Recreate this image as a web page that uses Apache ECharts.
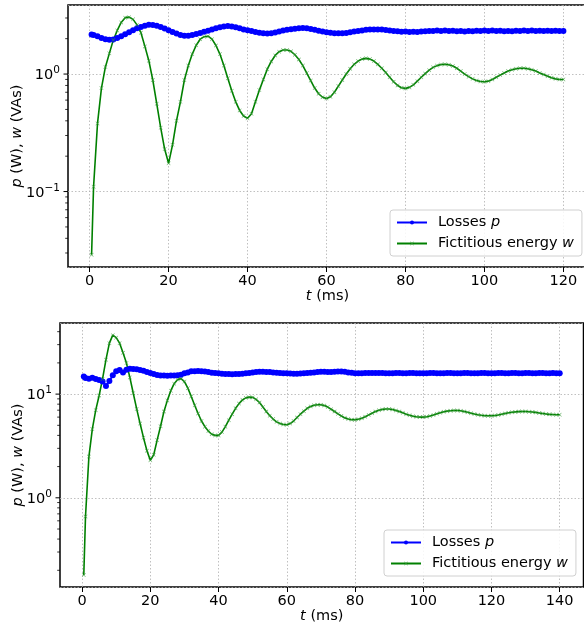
<!DOCTYPE html>
<html>
<head>
<meta charset="utf-8">
<script src="https://cdn.jsdelivr.net/npm/echarts@6/dist/echarts.min.js"></script>
<style>
  html, body { margin: 0; padding: 0; background: #fff; }
  #chart { width: 584px; height: 628px; }
</style>
</head>
<body>
<div id="chart"></div>
<script>
// sample grid: first sample at 0.5 ms, then every 1 ms
function sampleTimes(last) {
    const t = [0.5];
    for (let i = 1; i <= last; i++) t.push(i);
    return t;
}

const topTimes = sampleTimes(120);
const botTimes = sampleTimes(140);
const xTicksTop = [0, 20, 40, 60, 80, 100, 120];
const xTicksBot = [0, 20, 40, 60, 80, 100, 120, 140];

// upper plot: losses p (W) and fictitious energy w (VAs)
const topP = [
    2.17, 2.15, 2.10, 2.03, 1.98, 1.96, 1.97, 2.03, 2.10, 2.18, 2.27,
    2.36, 2.45, 2.52, 2.58, 2.63, 2.62, 2.58, 2.52, 2.44, 2.36,
    2.28, 2.21, 2.15, 2.12, 2.12, 2.15, 2.19, 2.24, 2.29, 2.34,
    2.40, 2.45, 2.50, 2.54, 2.56, 2.54, 2.50, 2.45, 2.40, 2.36,
    2.32, 2.28, 2.25, 2.22, 2.21, 2.22, 2.26, 2.30, 2.35, 2.38,
    2.41, 2.43, 2.45, 2.47, 2.45, 2.42, 2.38, 2.34, 2.30, 2.27,
    2.25, 2.23, 2.22, 2.22, 2.24, 2.27, 2.30, 2.33, 2.35, 2.38,
    2.39, 2.40, 2.39, 2.40, 2.37, 2.35, 2.32, 2.31, 2.29, 2.30,
    2.28, 2.29, 2.28, 2.30, 2.31, 2.33, 2.32, 2.35, 2.33, 2.35,
    2.33, 2.34, 2.31, 2.32, 2.30, 2.32, 2.31, 2.34, 2.32, 2.35,
    2.33, 2.35, 2.32, 2.34, 2.31, 2.33, 2.31, 2.34, 2.32, 2.35,
    2.33, 2.35, 2.32, 2.34, 2.32, 2.34, 2.32, 2.34, 2.32, 2.33
];
const topW = [
    0.029, 0.11, 0.38, 0.76, 1.15, 1.50, 1.95, 2.35, 2.75, 3.02, 3.05,
    2.92, 2.62, 2.25, 1.72, 1.30, 0.89, 0.56, 0.35, 0.23, 0.174,
    0.25, 0.40, 0.58, 0.89, 1.18, 1.48, 1.76, 1.98, 2.08, 2.10,
    1.98, 1.75, 1.48, 1.18, 0.92, 0.72, 0.58, 0.49, 0.44, 0.42,
    0.46, 0.58, 0.73, 0.90, 1.10, 1.28, 1.44, 1.55, 1.60, 1.60,
    1.56, 1.46, 1.33, 1.18, 1.02, 0.88, 0.76, 0.68, 0.635, 0.62,
    0.64, 0.70, 0.79, 0.89, 1.00, 1.11, 1.21, 1.29, 1.34, 1.36,
    1.34, 1.29, 1.21, 1.12, 1.03, 0.94, 0.86, 0.80, 0.765, 0.755,
    0.77, 0.81, 0.87, 0.94, 1.01, 1.08, 1.14, 1.18, 1.205, 1.21,
    1.20, 1.17, 1.12, 1.06, 1.00, 0.95, 0.91, 0.88, 0.865, 0.86,
    0.87, 0.90, 0.94, 0.98, 1.02, 1.06, 1.09, 1.11, 1.12, 1.12,
    1.11, 1.09, 1.06, 1.02, 0.99, 0.96, 0.93, 0.91, 0.90, 0.90
];

// lower plot
const botP = [
    14.8, 14.3, 14.1, 14.4, 14.0, 13.7, 13.2, 12.0, 13.4, 15.2, 16.6,
    17.1, 16.2, 17.2, 17.6, 17.5, 17.4, 17.1, 16.8, 16.3, 16.0,
    15.6, 15.3, 15.1, 15.1, 15.0, 15.1, 15.1, 15.2, 15.4, 15.9,
    16.2, 16.6, 16.6, 16.7, 16.6, 16.5, 16.3, 16.1, 16.0, 15.9,
    15.7, 15.6, 15.6, 15.5, 15.6, 15.6, 15.7, 15.9, 16.0, 16.2,
    16.3, 16.4, 16.4, 16.3, 16.3, 16.2, 16.1, 16.0, 15.9, 15.9,
    15.8, 15.7, 15.7, 15.8, 15.9, 16.0, 16.1, 16.2, 16.3, 16.4,
    16.4, 16.3, 16.3, 16.4, 16.5, 16.5, 16.4, 16.2, 16.1, 15.9,
    15.9, 15.9, 16.0, 16.0, 16.0, 16.0, 16.0, 16.0, 15.9, 15.9,
    15.9, 16.0, 16.0, 15.9, 15.9, 16.0, 16.0, 15.9, 15.9, 15.9,
    15.9, 16.0, 16.0, 15.9, 15.9, 15.9, 16.0, 16.0, 15.9, 15.9,
    15.9, 16.0, 16.0, 15.9, 15.9, 15.9, 16.0, 16.0, 15.9, 15.9,
    15.9, 16.0, 16.0, 15.9, 15.9, 16.0, 16.0, 15.9, 15.9, 16.0,
    16.0, 15.9, 15.9, 16.0, 16.0, 15.9, 15.9, 16.0, 15.9, 15.9
];
const botW = [
    0.18, 0.66, 2.5, 4.6, 7.0, 9.7, 14.0, 21.5, 31.0, 37.0, 35.0,
    31.0, 25.0, 19.9, 14.5, 10.2, 7.2, 5.2, 3.8, 2.85, 2.30,
    2.6, 3.6, 4.9, 6.8, 8.7, 10.8, 12.6, 13.8, 14.1, 13.2,
    11.4, 9.5, 7.8, 6.5, 5.5, 4.85, 4.4, 4.1, 4.0, 4.0,
    4.3, 4.85, 5.6, 6.4, 7.3, 8.1, 8.8, 9.2, 9.35, 9.3,
    8.9, 8.3, 7.5, 6.8, 6.2, 5.75, 5.4, 5.2, 5.1, 5.07,
    5.2, 5.5, 5.95, 6.4, 6.85, 7.3, 7.6, 7.8, 7.9, 7.9,
    7.75, 7.5, 7.15, 6.8, 6.45, 6.15, 5.9, 5.75, 5.67, 5.66,
    5.72, 5.85, 6.05, 6.3, 6.55, 6.8, 7.0, 7.12, 7.18, 7.18,
    7.1, 6.95, 6.8, 6.6, 6.4, 6.25, 6.12, 6.05, 6.0, 6.0,
    6.05, 6.15, 6.3, 6.45, 6.6, 6.75, 6.85, 6.92, 6.95, 6.95,
    6.9, 6.8, 6.68, 6.55, 6.42, 6.32, 6.25, 6.2, 6.18, 6.18,
    6.22, 6.3, 6.4, 6.5, 6.6, 6.68, 6.74, 6.78, 6.8, 6.8,
    6.77, 6.72, 6.66, 6.58, 6.5, 6.44, 6.38, 6.35, 6.33, 6.33
];

const seriesNames = ['Losses p', 'Fictitious energy w'];

const FONT = 'DejaVu Sans';
const BLUE = '#0000ff';
const GREEN = '#008000';
const X_MARK = 'path://M0,1L1,0L5,4L9,0L10,1L6,5L10,9L9,10L5,6L1,10L0,9L4,5Z';

const grids = [
    { left: 68, top: 5, width: 519, height: 262 },
    { left: 60, top: 323, width: 523.5, height: 264 }
];

const chart = echarts.init(document.getElementById('chart'), null, { renderer: 'canvas' });

const italicRich = {
    i: { fontStyle: 'italic', fontFamily: FONT, fontSize: 14.5, color: '#000' }
};

function pairs(times, values) {
    return times.map((t, i) => [t, values[i]]);
}

function xAxisFor(gridIndex, min, max, ticks) {
    return {
        type: 'value',
        gridIndex: gridIndex,
        min: min,
        max: max,
        name: '{i|t} (ms)',
        nameLocation: 'middle',
        nameGap: 22,
        nameMoveOverlap: false,
        nameTextStyle: { fontFamily: FONT, fontSize: 14.5, color: '#000', rich: italicRich },
        axisLine: { show: false },
        axisTick: { show: true, length: 5, inside: false, customValues: ticks, lineStyle: { color: '#000', width: 1 } },
        axisLabel: { customValues: ticks, margin: 7, fontFamily: FONT, fontSize: 14.5, color: '#000' },
        splitLine: { show: true, lineStyle: { color: '#b0b0b0', width: 0.8, type: [1.5, 2] } }
    };
}

function yAxisFor(gridIndex, min, max, gap) {
    return {
        type: 'log',
        logBase: 10,
        gridIndex: gridIndex,
        min: min,
        max: max,
        name: '{i|p} (W), {i|w} (VAs)',
        nameLocation: 'middle',
        nameGap: gap,
        nameMoveOverlap: false,
        nameTextStyle: { fontFamily: FONT, fontSize: 14.5, color: '#000', rich: italicRich },
        axisLine: { show: false },
        axisTick: { show: false },
        axisLabel: {
            showMinLabel: false,
            showMaxLabel: false,
            margin: 8,
            formatter: (v) => {
                const e = Math.round(Math.log10(v));
                return '{b|10}{s|' + (e < 0 ? '\u2212' + (-e) : e) + '}';
            },
            rich: {
                b: { fontFamily: FONT, fontSize: 14.5, color: '#000', verticalAlign: 'bottom' },
                s: { fontFamily: FONT, fontSize: 10.5, color: '#000', verticalAlign: 'bottom', padding: [0, 0, 7, 0] }
            }
        },
        splitLine: { show: true, lineStyle: { color: '#b0b0b0', width: 0.8, type: [1.5, 2] } }
    };
}

function lossSeries(idx, times, values) {
    return {
        name: seriesNames[0],
        type: 'line',
        xAxisIndex: idx,
        yAxisIndex: idx,
        data: pairs(times, values),
        symbol: 'circle',
        symbolSize: 6,
        showSymbol: true,
        showAllSymbol: true,
        lineStyle: { color: BLUE, width: 1.8 },
        itemStyle: { color: BLUE },
        emphasis: { disabled: true }
    };
}

function energySeries(idx, times, values) {
    return {
        name: seriesNames[1],
        type: 'line',
        xAxisIndex: idx,
        yAxisIndex: idx,
        data: pairs(times, values),
        symbol: X_MARK,
        symbolSize: 4,
        showSymbol: true,
        showAllSymbol: true,
        lineStyle: { color: GREEN, width: 1.6 },
        itemStyle: { color: '#3a9a3a', opacity: 0.8 },
        emphasis: { disabled: true }
    };
}

function legendAt(left, top) {
    return {
        data: seriesNames,
        orient: 'vertical',
        left: left,
        top: top,
        padding: [5, 8, 5, 6],
        itemGap: 6,
        itemWidth: 30,
        itemHeight: 5,
        backgroundColor: 'rgba(255,255,255,0.85)',
        borderColor: '#d0d0d0',
        borderWidth: 1,
        borderRadius: 3,
        selectedMode: false,
        formatter: (name) => name.replace(/ (\w)$/, ' {i|$1}'),
        textStyle: {
            fontFamily: FONT, fontSize: 14.5, color: '#000',
            padding: [0, 0, 0, 6],
            rich: italicRich
        }
    };
}

const option = {
    animation: false,
    backgroundColor: '#fff',
    grid: grids.map(g => Object.assign({
        show: true, borderColor: '#000', borderWidth: 1.5, backgroundColor: 'transparent',
        containLabel: false, outerBoundsMode: 'none'
    }, g)),
    legend: [legendAt(390, 210), legendAt(384, 530)],
    xAxis: [
        xAxisFor(0, -5.475, 125.975, xTicksTop),
        xAxisFor(1, -6.475, 146.975, xTicksBot)
    ],
    yAxis: [
        yAxisFor(0, 0.0228, 3.87, 43),
        yAxisFor(1, 0.138, 48.5, 34)
    ],
    series: [
        lossSeries(0, topTimes, topP),
        energySeries(0, topTimes, topW),
        lossSeries(1, botTimes, botP),
        energySeries(1, botTimes, botW)
    ]
};

chart.setOption(option);

// log-axis ticks (major at decades, minor at 2..9 x decade), drawn as short lines left of the frame
function logTicks(yIndex, min, max) {
    const out = [];
    const g = grids[yIndex];
    for (let d = -3; d <= 2; d++) {
        for (let k = 1; k <= 9; k++) {
            const v = k * Math.pow(10, d);
            if (v < min || v > max) continue;
            const y = chart.convertToPixel({ yAxisIndex: yIndex }, v);
            const len = k === 1 ? 4.5 : 2.8;
            out.push({
                type: 'line',
                silent: true,
                shape: { x1: g.left - len, y1: y, x2: g.left, y2: y },
                style: { stroke: '#000', lineWidth: k === 1 ? 1 : 0.8 }
            });
        }
    }
    return out;
}

chart.setOption({
    graphic: [].concat(logTicks(0, 0.0228, 3.87), logTicks(1, 0.138, 48.5))
});
</script>
</body>
</html>
